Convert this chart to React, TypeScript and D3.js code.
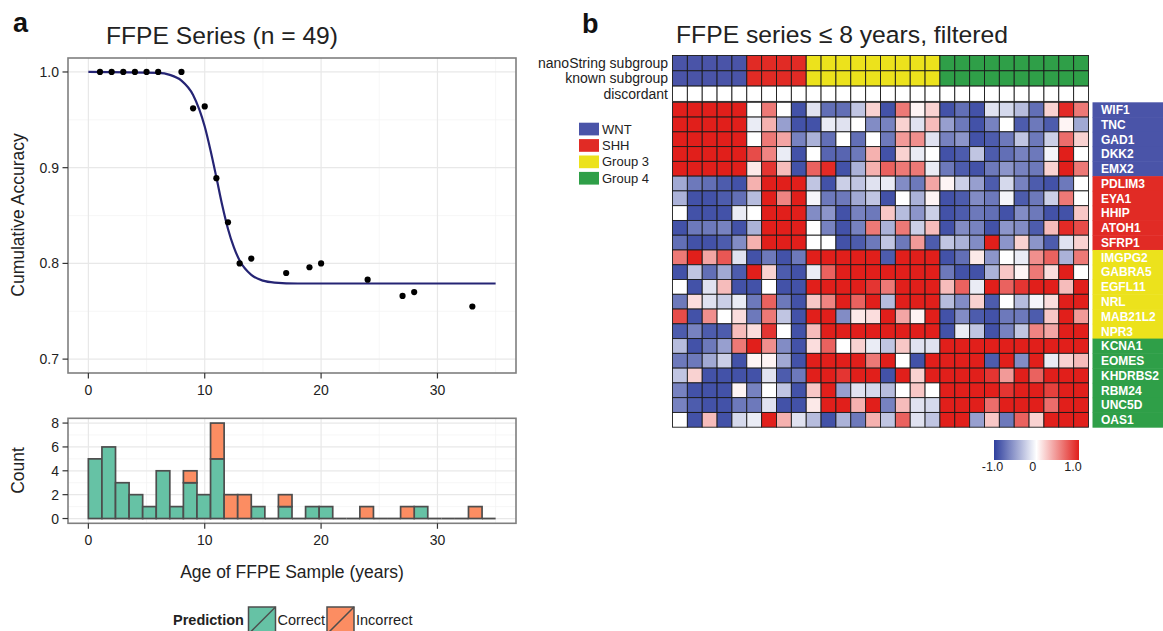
import React from 'react';
import * as d3 from 'd3';

// ---------- Panel a data ----------
const accAge = [1, 2, 3, 4, 5, 6, 8, 9, 10, 11, 12, 13, 14, 17, 19, 20, 24, 27, 28, 33];
const accValue = [1, 1, 1, 1, 1, 1, 1, 0.962, 0.964, 0.889, 0.843, 0.8, 0.805, 0.79, 0.796, 0.8, 0.783, 0.766, 0.77, 0.755];
const fitAge = [0, 6, 7, 8, 9, 10, 10.5, 11, 11.5, 12, 12.5, 13, 14, 15, 16, 18, 22, 35];
const fitValue = [1.0, 0.999, 0.997, 0.991, 0.976, 0.943, 0.918, 0.89, 0.861, 0.836, 0.817, 0.803, 0.788, 0.782, 0.78, 0.779, 0.779, 0.779];
const ageTicks = [0, 10, 20, 30];
const ageMinor = [5, 15, 25, 35];
const accTicks = [0.7, 0.8, 0.9, 1.0];
const accMinor = [0.75, 0.85, 0.95];
const countTicks = [0, 2, 4, 6, 8];
const countMinor = [1, 3, 5, 7];
const histRange = [0, 35];
const correctCounts = [5, 6, 3, 2, 1, 4, 1, 3, 2, 5, 0, 0, 1, 0, 1, 0, 1, 1, 0, 0, 0, 0, 0, 0, 1, 0, 0, 0, 0, 0];
const incorrectCounts = [0, 0, 0, 0, 0, 0, 0, 1, 0, 3, 2, 2, 0, 0, 1, 0, 0, 0, 0, 0, 1, 0, 0, 1, 0, 0, 0, 0, 1, 0];
const predictionLabels = ['Correct', 'Incorrect'];
const predictionColors = ['#66c2a5', '#fc8d62'];

// ---------- Panel b data ----------
const W_ = 'WNT', S_ = 'SHH', G3 = 'Group 3', G4 = 'Group 4';
const nanoStringSubgroup = [W_, W_, W_, W_, W_, S_, S_, S_, S_, G3, G3, G3, G3, G3, G3, G3, G3, G3, G4, G4, G4, G4, G4, G4, G4, G4, G4, G4];
const knownSubgroup = [W_, W_, W_, W_, W_, S_, S_, S_, S_, G3, G3, G3, G3, G3, G3, G3, G3, G3, G4, G4, G4, G4, G4, G4, G4, G4, G4, G4];
const discordant = nanoStringSubgroup.map((s, i) => s !== knownSubgroup[i]);
const subgroups = [W_, S_, G3, G4];
const subgroupColors = ['#4a54a8', '#e12b25', '#ece21c', '#2f9f48'];
const genes = ['WIF1', 'TNC', 'GAD1', 'DKK2', 'EMX2', 'PDLIM3', 'EYA1', 'HHIP', 'ATOH1', 'SFRP1', 'IMGPG2', 'GABRA5', 'EGFL11', 'NRL', 'MAB21L2', 'NPR3', 'KCNA1', 'EOMES', 'KHDRBS2', 'RBM24', 'UNC5D', 'OAS1'];
const geneGroup = [W_, W_, W_, W_, W_, S_, S_, S_, S_, S_, G3, G3, G3, G3, G3, G3, G4, G4, G4, G4, G4, G4];
const expr = [
  [1, 1, 1, 1, 1, 0, 0.6, 0, -0.9, -0.15, -0.75, -0.75, -0.3, 0.2, -0.9, 0.6, 0.05, 0.2, -0.9, -0.75, -0.9, -0.15, -0.2, -0.35, -0.75, 0.2, 0.95, 0.6],
  [1, 1, 1, 1, 1, -0.1, 0.35, -0.5, -0.9, -0.9, -0.1, -0.15, 0, -0.6, -0.65, 0.2, -0.15, 0.3, -0.5, -0.7, -0.9, -0.65, 0, -0.85, -0.7, -0.85, 0.05, -0.45],
  [1, 1, 1, 1, 1, 0, 0.6, 0.4, -0.65, -0.4, -0.75, 0, -0.75, 0, -0.7, 0.45, 0.5, -0.15, -0.65, -0.55, -0.9, -0.85, -0.7, -0.3, -0.7, -0.25, 0.65, 0.2],
  [1, 1, 1, 1, 1, 0.8, 0.55, -0.1, -0.9, 0, -0.8, -0.8, -0.7, 0.35, -0.9, 0.2, -0.1, 0, -0.9, -0.85, -0.3, -0.85, -0.75, -0.65, -0.7, -0.05, 1, 0],
  [1, 1, 1, 1, 1, 0.1, 0.9, 0.3, -0.9, 0.7, 0.95, -0.9, -0.4, 0.35, 0.7, 0.6, 0.6, -0.1, -0.7, -0.85, -0.9, -0.7, -0.55, -0.65, -0.7, 0.2, 1, 0.6],
  [-0.45, -0.7, -0.75, -0.85, -0.9, 0.35, 1, 1, 1, -0.3, -0.9, -0.25, -0.3, -0.15, -0.1, -0.6, -0.7, 0.4, 0.05, -0.25, -0.5, -0.85, -0.2, -0.65, -0.85, -0.9, -0.7, 0],
  [-0.4, -0.9, -0.9, -0.85, -0.75, -0.35, 1, 0.55, 1, -0.05, -0.7, -0.7, -0.45, -0.3, -0.9, 0, -0.4, 0.05, -0.9, -0.85, -0.6, -0.7, -0.05, -0.85, -0.7, -0.25, 0.6, 0],
  [0, -0.9, -0.9, -0.9, -0.1, 0, 1, 1, 1, -0.6, -0.55, -0.9, -0.65, -0.7, 0.25, -0.35, -0.55, -0.25, -0.9, -0.85, -0.7, -0.75, -0.9, -0.6, -0.7, -0.9, -0.9, 0.25],
  [-0.9, -0.7, -0.7, -0.65, -0.9, -0.4, 1, 1, 1, 0, -0.65, -0.9, -0.65, 0.6, -0.4, 0.6, -0.25, 0.3, -0.9, -0.6, -0.65, -0.9, -0.55, -0.6, -0.85, 0.3, 0.95, 0.8],
  [-0.75, -0.9, -0.9, -0.85, -0.6, 0.35, 1, 1, 1, 0, 0, -0.9, -0.85, -0.7, -0.3, -0.7, 0.45, -0.85, -0.3, -0.4, -0.6, 1, -0.55, 0.2, -0.55, -0.85, -0.15, 0.2],
  [0.6, 1, 0.4, 0.75, -0.15, -0.9, -0.7, -0.9, -0.7, 1, 1, 1, 1, 1, -0.85, 1, 1, 1, -0.9, -0.75, 0.1, -0.55, 0, -0.1, 0.5, 0.7, -0.4, 0.6],
  [-0.9, -0.3, -0.75, -0.45, -0.85, 1, 0.2, -0.85, -0.9, -0.1, 0.7, 1, 1, 1, 1, 1, 1, 1, -0.7, -0.9, -0.9, -0.4, 0.25, 0.05, 0.6, 0.15, 1, 0],
  [0, -0.9, -0.15, 0.3, -0.9, -0.9, 0, -0.9, -0.9, 1, 1, 1, 1, 0.9, 0.6, 1, 1, 1, 0.3, 0.7, -0.1, 1, 0.7, 0.9, 1, 1, 0.3, 1],
  [-0.7, 0.15, -0.15, -0.25, -0.1, -0.7, 0.7, -0.7, -0.9, 0.25, 0.55, 1, 0.7, 1, -0.35, 1, 1, 1, -0.35, -0.6, 0.2, -0.85, 0, -0.35, -0.05, 0.15, 1, 1],
  [0.8, -0.9, 0.5, 0, 0.15, -0.7, 0.6, -0.3, -0.9, 1, 1, -0.6, 0.1, 0.15, 1, 0.4, 0.05, 1, -0.9, -0.6, -0.85, -0.9, -0.7, -0.7, -0.85, 0.25, 1, 0.45],
  [-0.85, -0.65, -0.85, -0.85, 0.3, 0.15, 0.9, 0, -0.9, 0.3, 1, 1, 1, 1, 1, 1, 1, 1, -0.9, -0.1, -0.3, -0.9, -0.65, -0.3, 0.55, 0.4, 1, 1],
  [-0.35, -0.9, -0.7, -0.5, 0.6, 1, 0.5, -0.6, -0.9, 0.15, 0.7, 0, 0.2, -0.1, -0.3, 0.25, -0.15, -0.15, 1, 1, 1, 1, 1, 1, 1, 1, 1, 1],
  [-0.7, -0.7, -0.45, -0.25, -0.9, 0.05, 0.05, -0.45, -0.9, 1, 1, 1, 1, 0.6, 1, 0, -0.9, 1, 1, 1, 1, -0.85, 1, -0.6, 1, -0.1, 0.2, 0.3],
  [-0.3, 0.2, -0.9, -0.9, -0.9, -0.9, -0.15, -0.85, -0.7, 1, 1, 0.9, 1, 1, -0.9, 1, 0.2, 1, 1, 1, 1, 0.9, 0.45, 1, 0.7, 1, 1, 1],
  [-0.65, -0.9, -0.9, -0.9, 0.05, -0.65, 0, -0.3, -0.9, 0.25, 1, -0.5, -0.15, -0.2, -0.35, 0, 0.25, 0, 1, 1, 1, 1, 0.9, 1, 1, 0.85, 1, 1],
  [-0.65, -0.85, -0.9, -0.9, -0.7, -0.7, -0.15, -0.9, -0.9, 0.1, 1, 1, 0.35, 1, -0.65, 0.3, -0.15, -0.2, 1, 1, 1, 0.65, 1, 1, 1, 0.65, 1, 1],
  [0, -0.9, 0.3, -0.9, -0.2, -0.1, 1, 0.35, -0.15, -0.35, -0.9, -0.4, -0.7, 0.35, -0.3, 0.7, -0.15, -0.3, 1, 1, -0.5, 0.25, -0.7, 0.7, 0.2, 1, 1, 1],
];
const headerRows = ['nanoString subgroup', 'known subgroup', 'discordant'];
const colorbarTicks = [-1, 0, 1];
const colorbarLabels = ['-1.0', '0', '1.0'];

const FONT = '"Liberation Sans", Arial, Helvetica, sans-serif';
const TXT = '#222';

export default function App() {
  // ---- Panel a scales ----
  const x = d3.scaleLinear().domain([-1.75, 36.75]).range([68, 516]);
  const yA = d3.scaleLinear().domain([0.6855, 1.0146]).range([373, 58]);
  const yC = d3.scaleLinear().domain([-0.4, 8.4]).range([523.3, 418.3]);
  const nb = correctCounts.length;
  const bw = (histRange[1] - histRange[0]) / nb;
  const fitLine = d3.line<number>()
    .x((_, i) => x(fitAge[i]))
    .y((d) => yA(d))
    .curve(d3.curveMonotoneX);

  // ---- Panel b scales ----
  const cols = d3.range(nanoStringSubgroup.length);
  const xb = d3.scaleBand<number>().domain(cols).range([672.5, 1088.5]).padding(0);
  const yb = d3.scaleBand<string>().domain(genes).range([102.3, 427.2]).padding(0);
  const yh = d3.scaleBand<string>().domain(headerRows).range([55.5, 101.4]).padding(0);
  const heat = d3.scaleLinear<string>().domain([-1, 0, 1]).range(['#2e3f9e', '#ffffff', '#e11f1b']).clamp(true);
  const sgColor = d3.scaleOrdinal<string, string>().domain(subgroups).range(subgroupColors);
  const cbx = d3.scaleLinear().domain([-1, 1]).range([994, 1079]);
  const cbLabelX = d3.scaleLinear().domain([-1, 1]).range([992.5, 1073]);

  const panelA = (top: number, bottom: number, yScale: any, majors: number[], minors: number[]) => (
    <g>
      <rect x={68} y={top} width={448} height={bottom - top} fill="#fff" />
      {minors.map((v) => (
        <line key={'ym' + v} x1={68} x2={516} y1={yScale(v)} y2={yScale(v)} stroke="#f2f2f2" strokeWidth={0.7} />
      ))}
      {ageMinor.map((v) => (
        <line key={'xm' + v} x1={x(v)} x2={x(v)} y1={top} y2={bottom} stroke="#f2f2f2" strokeWidth={0.7} />
      ))}
      {majors.map((v) => (
        <line key={'yM' + v} x1={68} x2={516} y1={yScale(v)} y2={yScale(v)} stroke="#e8e8e8" strokeWidth={1.2} />
      ))}
      {ageTicks.map((v) => (
        <line key={'xM' + v} x1={x(v)} x2={x(v)} y1={top} y2={bottom} stroke="#e8e8e8" strokeWidth={1.2} />
      ))}
    </g>
  );

  const axes = (top: number, bottom: number, yScale: any, majors: number[], fmt: (v: number) => string) => (
    <g fontFamily={FONT} fill={TXT}>
      <rect x={68} y={top} width={448} height={bottom - top} fill="none" stroke="#7f7f7f" strokeWidth={1.6} />
      {majors.map((v) => (
        <g key={'yt' + v}>
          <line x1={62.5} x2={68} y1={yScale(v)} y2={yScale(v)} stroke="#333" strokeWidth={1.2} />
          <text x={59} y={yScale(v) + 5} fontSize={14} textAnchor="end">{fmt(v)}</text>
        </g>
      ))}
      {ageTicks.map((v) => (
        <g key={'xt' + v}>
          <line x1={x(v)} x2={x(v)} y1={bottom} y2={bottom + 5.5} stroke="#333" strokeWidth={1.2} />
          <text x={x(v)} y={bottom + 22} fontSize={14} textAnchor="middle">{v}</text>
        </g>
      ))}
    </g>
  );

  return (
    <svg width={1163} height={631} style={{ position: 'absolute', left: 0, top: 0, background: '#fff' }}>
      <rect x={0} y={0} width={1163} height={631} fill="#fff" />
      {/* ---------------- Panel a ---------------- */}
      <text x={13} y={32} fontFamily={FONT} fontWeight="bold" fontSize={27} fill="#111">a</text>
      <text x={106} y={44} fontFamily={FONT} fontSize={24.5} fill={TXT} textLength={232} lengthAdjust="spacingAndGlyphs">FFPE Series (n = 49)</text>

      {panelA(58, 373, yA, accTicks, accMinor)}
      <path d={fitLine(fitValue) || ''} fill="none" stroke="#252474" strokeWidth={2.2} />
      {accAge.map((a, i) => (
        <circle key={'p' + i} cx={x(a)} cy={yA(accValue[i])} r={3.1} fill="#000" />
      ))}
      {axes(58, 373, yA, accTicks, (v) => v.toFixed(1))}
      <text transform={`translate(24,215) rotate(-90)`} fontFamily={FONT} fontSize={17.5} fill={TXT} textAnchor="middle">Cumulative Accuracy</text>

      {panelA(418.3, 523.3, yC, countTicks, countMinor)}
      {correctCounts.map((c, i) => {
        const x0 = histRange[0] + i * bw;
        if (c + incorrectCounts[i] === 0) {
          return (
            <line key={'z' + i} x1={x(x0)} x2={x(x0 + bw)} y1={yC(0)} y2={yC(0)} stroke="#4d4d4d" strokeWidth={1.8} />
          );
        }
        if (c === 0) return null;
        return (
          <rect key={'c' + i} x={x(x0)} width={x(x0 + bw) - x(x0)} y={yC(c)} height={yC(0) - yC(c)}
            fill={predictionColors[0]} stroke="#4d4d4d" strokeWidth={1.7} />
        );
      })}
      {incorrectCounts.map((n, i) => {
        if (n <= 0) return null;
        const x0 = histRange[0] + i * bw;
        const c = correctCounts[i];
        return (
          <rect key={'n' + i} x={x(x0)} width={x(x0 + bw) - x(x0)} y={yC(c + n)} height={yC(c) - yC(c + n)}
            fill={predictionColors[1]} stroke="#4d4d4d" strokeWidth={1.7} />
        );
      })}
      {axes(418.3, 523.3, yC, countTicks, (v) => String(v))}
      <text transform={`translate(24,470.5) rotate(-90)`} fontFamily={FONT} fontSize={17.5} fill={TXT} textAnchor="middle">Count</text>
      <text x={292} y={578} fontFamily={FONT} fontSize={17.5} fill={TXT} textAnchor="middle">Age of FFPE Sample (years)</text>

      {/* legend */}
      <text x={173} y={625} fontFamily={FONT} fontSize={14.5} fontWeight="bold" fill={TXT}>Prediction</text>
      {predictionLabels.map((lab, i) => {
        const kx = [248.5, 327][i];
        return (
          <g key={lab}>
            <rect x={kx} y={607} width={27} height={27} fill={predictionColors[i]} stroke="#4d4d4d" strokeWidth={1.5} />
            <line x1={kx} y1={634} x2={kx + 27} y2={607} stroke="#4d4d4d" strokeWidth={1.5} />
            <text x={kx + 29} y={625} fontFamily={FONT} fontSize={14.5} fill={TXT}>{lab}</text>
          </g>
        );
      })}

      {/* ---------------- Panel b ---------------- */}
      <text x={582} y={33} fontFamily={FONT} fontWeight="bold" fontSize={27} fill="#111">b</text>
      <text x={676} y={43} fontFamily={FONT} fontSize={24.5} fill={TXT} textLength={332} lengthAdjust="spacingAndGlyphs">FFPE series ≤ 8 years, filtered</text>

      {headerRows.map((h) => (
        <text key={h} x={668} y={(yh(h) as number) + yh.bandwidth() / 2 + 5} fontFamily={FONT} fontSize={14} fill={TXT} textAnchor="end">{h}</text>
      ))}
      {cols.map((c) => (
        <g key={'h' + c}>
          <rect x={xb(c)} y={yh(headerRows[0])} width={xb.bandwidth()} height={yh.bandwidth()} fill={sgColor(nanoStringSubgroup[c])} stroke="#1a1a1a" strokeWidth={0.9} />
          <rect x={xb(c)} y={yh(headerRows[1])} width={xb.bandwidth()} height={yh.bandwidth()} fill={sgColor(knownSubgroup[c])} stroke="#1a1a1a" strokeWidth={0.9} />
          <rect x={xb(c)} y={yh(headerRows[2])} width={xb.bandwidth()} height={yh.bandwidth()} fill={discordant[c] ? '#000' : '#fff'} stroke="#1a1a1a" strokeWidth={0.9} />
        </g>
      ))}

      {expr.map((row, r) => (
        <g key={'r' + r}>
          {row.map((v, c) => (
            <rect key={c} x={xb(c)} y={yb(genes[r])} width={xb.bandwidth()} height={yb.bandwidth()} fill={heat(v)} stroke="#1a1a1a" strokeWidth={0.9} />
          ))}
        </g>
      ))}

      {/* gene labels */}
      {genes.map((g, r) => (
        <g key={g}>
          <rect x={1092.5} y={yb(g)} width={72} height={yb.bandwidth() + 0.5} fill={sgColor(geneGroup[r])} />
          <text x={1101} y={(yb(g) as number) + yb.bandwidth() / 2 + 4.3} fontFamily={FONT} fontSize={12} fontWeight="bold" fill="#fff">{g}</text>
        </g>
      ))}

      {/* subgroup legend */}
      {subgroups.map((s, i) => (
        <g key={s}>
          <rect x={579} y={122.7 + i * 16.4} width={20} height={12.7} fill={subgroupColors[i]} />
          <text x={602} y={133.5 + i * 16.4} fontFamily={FONT} fontSize={13} fill={TXT}>{s}</text>
        </g>
      ))}

      {/* colorbar */}
      <defs>
        <linearGradient id="cbgrad" x1="0" x2="1" y1="0" y2="0">
          {d3.range(0, 1.0001, 0.1).map((t) => (
            <stop key={t} offset={t} stopColor={heat(-1 + 2 * t)} />
          ))}
        </linearGradient>
      </defs>
      <rect x={cbx(-1)} y={440} width={cbx(1) - cbx(-1)} height={20} fill="url(#cbgrad)" />
      {colorbarTicks.map((t, i) => (
        <text key={t} x={cbLabelX(t)} y={470.5} fontFamily={FONT} fontSize={12.5} fill={TXT} textAnchor="middle">{colorbarLabels[i]}</text>
      ))}
    </svg>
  );
}
